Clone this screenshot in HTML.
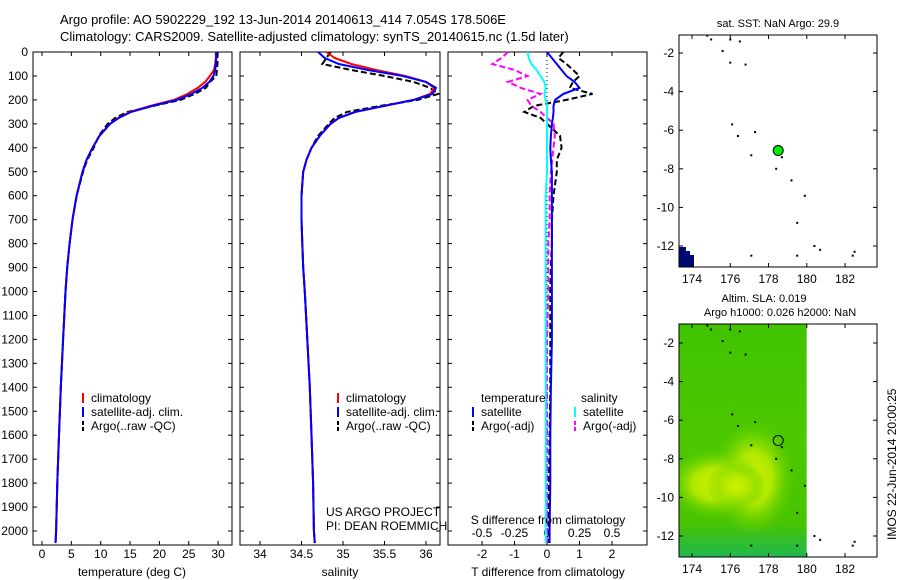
<!DOCTYPE html>
<html><head><meta charset="utf-8"><style>
body{margin:0;background:#fff;}
svg{display:block;font-family:"Liberation Sans",sans-serif;}
</style></head><body>
<svg id="fig" width="900" height="580" viewBox="0 0 900 580" xmlns="http://www.w3.org/2000/svg">
<text x="60" y="24" font-size="13">Argo profile: AO 5902229_192 13-Jun-2014 20140613_414 7.054S 178.506E</text>
<text x="60" y="41" font-size="13">Climatology: CARS2009. Satellite-adjusted climatology: synTS_20140615.nc (1.5d later)</text>
<g id="g"></g>
</svg>
<script>
// shared depth grid (m)
const depths = [0,25,50,75,100,125,150,175,200,225,250,275,300,350,400,450,500,600,700,800,900,1000,1200,1400,1600,1800,2000,2050];
const tempClim = [29.6,29.6,29.5,29.3,28.6,27.8,26.5,24.8,22.5,18.5,15.0,13.0,11.6,9.8,8.6,7.6,6.9,5.9,5.2,4.7,4.3,4.0,3.6,3.2,2.9,2.6,2.4,2.3];
const tempSat  = [29.7,29.7,29.6,29.5,29.2,28.5,27.3,25.5,23.0,18.8,15.2,13.1,11.6,9.8,8.6,7.6,6.9,5.9,5.2,4.7,4.3,4.0,3.6,3.2,2.9,2.6,2.4,2.3];
const tempArgo = [29.9,29.9,29.9,29.8,29.7,28.6,27.9,26.0,23.6,19.0,14.6,12.5,11.2,9.7,8.8,7.7,7.0,5.9,5.2,4.7,4.3,4.0,3.6,3.2,2.9,2.6,2.4,2.3];
const salClim  = [34.80,34.90,35.10,35.40,35.75,36.00,36.10,36.05,35.85,35.50,35.15,34.95,34.85,34.72,34.62,34.56,34.52,34.50,34.50,34.51,34.52,34.54,34.57,34.60,34.62,34.64,34.65,34.66];
const salSat   = [34.70,34.78,34.95,35.30,35.72,36.00,36.12,36.08,35.85,35.50,35.15,34.95,34.85,34.72,34.62,34.56,34.52,34.50,34.50,34.51,34.52,34.54,34.57,34.60,34.62,34.64,34.65,34.66];
const salArgo  = [34.85,34.80,34.75,35.10,35.50,35.85,36.05,36.15,35.90,35.45,35.05,34.90,34.83,34.70,34.62,34.56,34.52,34.50,34.50,34.51,34.52,34.54,34.57,34.60,34.62,34.64,34.65,34.66];
const dTsat  = [0.0,0.15,0.3,0.45,0.6,0.85,1.0,0.5,0.25,0.2,0.2,0.18,0.15,0.12,0.1,0.12,0.15,0.15,0.15,0.15,0.15,0.15,0.15,0.12,0.1,0.1,0.08,0.08];
const dTargo = [0.5,0.35,0.6,0.8,1.0,0.8,0.7,1.4,0.6,-0.4,-0.7,-0.2,0.0,0.4,0.45,0.3,0.3,0.2,0.15,0.15,0.12,0.1,0.1,0.1,0.08,0.06,0.05,0.05];
const dSsat  = [-0.15,-0.14,-0.12,-0.08,-0.05,-0.02,-0.01,-0.02,-0.01,0.0,0.0,0.0,0.0,0.0,0.0,0.0,0.0,-0.01,-0.01,-0.01,-0.01,-0.01,-0.01,-0.01,-0.01,-0.01,-0.01,-0.01];
const dSargo = [-0.3,-0.35,-0.42,-0.25,-0.15,-0.3,-0.2,-0.05,-0.15,-0.12,-0.05,0.0,0.05,0.06,0.05,0.04,0.03,0.02,0.02,0.01,0.01,0.01,0.0,0.0,0.0,0.0,0.0,0.0];
const depthTicks = [0,100,200,300,400,500,600,700,800,900,1000,1100,1200,1300,1400,1500,1600,1700,1800,1900,2000];
const tempTicks = [0,5,10,15,20,25,30];
const salTicks = [34,34.5,35,35.5,36];
const tdTicks = [-2,-1,0,1,2];
const sdTicks = [-0.5,-0.25,0,0.25,0.5];
const lonTicks = [174,176,178,180,182];
const latTicks = [-2,-4,-6,-8,-10,-12];
const coast = [[174.8,-1.1],[175.0,-1.3],[176.0,-1.3],[176.5,-1.4],[175.6,-1.9],[176.0,-2.5],[176.8,-2.6],[176.1,-5.7],[176.4,-6.3],[177.3,-6.1],[177.1,-7.3],[178.7,-7.4],[178.4,-8.0],[179.2,-8.6],[179.9,-9.4],[179.5,-10.8],[180.4,-12.0],[180.7,-12.2],[177.1,-12.5],[179.5,-12.5],[182.5,-12.3],[182.4,-12.5]];
const floatLon = 178.506, floatLat = -7.054;

const NS="http://www.w3.org/2000/svg";
const G=document.getElementById('g');
function el(t,a,p){const e=document.createElementNS(NS,t);for(const k in a)e.setAttribute(k,a[k]);(p||G).appendChild(e);return e;}
const yD=d=>52+d*0.2395;

function axesBox(x0,x1,name){
  const r=el('rect',{x:x0,y:52,width:x1-x0,height:493,fill:'none',stroke:'#000','stroke-width':1});
  
  
  depthTicks.forEach(d=>{el('line',{x1:x0,x2:x0+4,y1:yD(d),y2:yD(d),stroke:'#000'});el('line',{x1:x1,x2:x1-4,y1:yD(d),y2:yD(d),stroke:'#000'});});
}
function profile(xs,xf,col,dash,name){
  const pts=depths.map((d,i)=>xf(xs[i]).toFixed(1)+','+yD(d).toFixed(1)).join(' ');
  const p=el('polyline',{points:pts,fill:'none',stroke:col,'stroke-width':2});
  if(dash)p.setAttribute('stroke-dasharray',dash);
  
  
}
function xticks(x0,x1,ticks,xf,yy,lbls){
  ticks.forEach((t,i)=>{const x=xf(t);el('line',{x1:x,x2:x,y1:52,y2:56,stroke:'#000'});el('line',{x1:x,x2:x,y1:545,y2:541,stroke:'#000'});
    const tx=el('text',{x:x,y:yy,'font-size':12,'text-anchor':'middle'});tx.textContent=lbls?lbls[i]:t;});
}
depthTicks.forEach(d=>{const t=el('text',{x:28,y:yD(d)+4,'font-size':12,'text-anchor':'end'});t.textContent=d;});

// Panel 1
const xT=t=>42+t*5.87;
axesBox(33,232,'temperature-axes');
xticks(33,232,tempTicks,xT,558);
profile(tempArgo,xT,'#000','6,3','temp-argo');
profile(tempClim,xT,'#f00',null,'temp-climatology');
profile(tempSat,xT,'#00f',null,'temp-satellite');
el('text',{x:132,y:576,'font-size':12,'text-anchor':'middle'}).textContent='temperature (deg C)';

// Panel 2
const xS=s=>260+(s-34)*83;
axesBox(240,440,'salinity-axes');
xticks(240,440,salTicks,xS,558,['34','34.5','35','35.5','36']);
profile(salArgo,xS,'#000','6,3','sal-argo');
profile(salClim,xS,'#f00',null,'sal-climatology');
profile(salSat,xS,'#00f',null,'sal-satellite');
el('text',{x:340,y:576,'font-size':12,'text-anchor':'middle'}).textContent='salinity';

// Panel 3
const xTd=t=>547+t*32.5;
const xSd=s=>547+s*130;
axesBox(448,647,'difference-axes');
tdTicks.forEach(t=>{const x=xTd(t);el('line',{x1:x,x2:x,y1:52,y2:56,stroke:'#000'});el('line',{x1:x,x2:x,y1:545,y2:541,stroke:'#000'});el('text',{x:x,y:558,'font-size':12,'text-anchor':'middle'}).textContent=t;});
sdTicks.forEach(s=>{el('text',{x:xSd(s),y:537,'font-size':12,'text-anchor':'middle'}).textContent=s;});
el('line',{x1:547,x2:547,y1:52,y2:545,stroke:'#000','stroke-dasharray':'1,3'});
profile(dTargo,xTd,'#000','6,3','tdiff-argo');
profile(dSargo,xSd,'#f0f','6,3','sdiff-argo');
profile(dSsat,xSd,'#0ff',null,'sdiff-satellite');
profile(dTsat,xTd,'#00f',null,'tdiff-satellite');
el('text',{x:548,y:524,'font-size':12,'text-anchor':'middle'}).textContent='S difference from climatology';
el('text',{x:548,y:576,'font-size':12,'text-anchor':'middle'}).textContent='T difference from climatology';

function leg(x,y,col,dash,txt,name){
  const l=el('line',{x1:x,x2:x,y1:y-9,y2:y+1,stroke:col,'stroke-width':2});
  if(dash)l.setAttribute('stroke-dasharray',dash);
  const t=el('text',{x:x+8,y:y,'font-size':12});t.textContent=txt;
  
  
}
[[83,'temp'],[338,'sal']].forEach(([x,n])=>{
  leg(x,402,'#f00',null,'climatology',n+'-legend-climatology');
  leg(x,416,'#00f',null,'satellite-adj. clim.',n+'-legend-satellite');
  leg(x,430,'#000','4,2','Argo(..raw -QC)',n+'-legend-argo');
});
el('text',{x:481,y:402,'font-size':12}).textContent='temperature';
el('text',{x:581,y:402,'font-size':12}).textContent='salinity';
leg(473,416,'#00f',null,'satellite','tdiff-legend-satellite');
leg(473,430,'#000','4,2','Argo(-adj)','tdiff-legend-argo');
leg(575,416,'#0ff',null,'satellite','sdiff-legend-satellite');
leg(575,430,'#f0f','4,2','Argo(-adj)','sdiff-legend-argo');
el('text',{x:326,y:516,'font-size':12}).textContent='US ARGO PROJECT';
el('text',{x:326,y:530,'font-size':12}).textContent='PI: DEAN ROEMMICH';

// Maps
const xL=l=>692+(l-174)*19.13;
function mapAxes(top,bottom,y2,yf,name){
  const r=el('rect',{x:679,y:top,width:198,height:bottom-top,fill:'none',stroke:'#000'});
  
  
  lonTicks.forEach(l=>{const x=xL(l);el('line',{x1:x,x2:x,y1:top,y2:top+4,stroke:'#000'});el('line',{x1:x,x2:x,y1:bottom,y2:bottom-4,stroke:'#000'});el('text',{x:x,y:bottom+16,'font-size':12,'text-anchor':'middle'}).textContent=l;});
  latTicks.forEach(a=>{const y=yf(a);el('line',{x1:679,x2:683,y1:y,y2:y,stroke:'#000'});el('line',{x1:877,x2:873,y1:y,y2:y,stroke:'#000'});el('text',{x:674,y:y+4,'font-size':12,'text-anchor':'end'}).textContent=a;});
}
const yM1=a=>53+(-2-a)*19.3;
el('text',{x:778,y:27,'font-size':11,'text-anchor':'middle'}).textContent='sat. SST: NaN Argo: 29.9';
el('path',{d:'M679 247 H686 V251 H690 V255 H694 V267 H679 Z',fill:'#000a70'});
coast.forEach(c=>{el('rect',{x:xL(c[0])-1,y:yM1(c[1])-1,width:2,height:2,fill:'#000'});});
const fd=el('circle',{cx:xL(floatLon),cy:yM1(floatLat),r:5,fill:'#0e0',stroke:'#000'});


mapAxes(35,267,null,yM1,'sst-map-axes');

// Map 2 (SLA)
const yM2=a=>343+(-2-a)*19.3;
el('text',{x:764,y:302,'font-size':11,'text-anchor':'middle'}).textContent='Altim. SLA: 0.019';
el('text',{x:780,y:316,'font-size':11,'text-anchor':'middle'}).textContent='Argo h1000: 0.026 h2000: NaN';
const defs=el('defs',{});
const cp=el('clipPath',{id:'slaclip'},defs);
el('rect',{x:679,y:324,width:xL(180)-679,height:233},cp);
const rg=el('radialGradient',{id:'yb',cx:'50%',cy:'50%',r:'50%'},defs);
el('stop',{offset:'0%','stop-color':'#d0f000'},rg);
el('stop',{offset:'45%','stop-color':'#b0e800'},rg);
el('stop',{offset:'100%','stop-color':'#60d000','stop-opacity':0},rg);
const lg=el('linearGradient',{id:'bg',x1:0,y1:0,x2:0,y2:1},defs);
el('stop',{offset:'0%','stop-color':'#40c400'},lg);
el('stop',{offset:'50%','stop-color':'#4cc800'},lg);
el('stop',{offset:'85%','stop-color':'#48c400'},lg);
el('stop',{offset:'100%','stop-color':'#20b850'},lg);
const hg=el('g',{'clip-path':'url(#slaclip)'});
const hm=el('rect',{x:679,y:324,width:xL(180)-679,height:233,fill:'url(#bg)'},hg);


el('ellipse',{cx:xL(177.2),cy:yM2(-9),rx:42,ry:58,fill:'url(#yb)'},hg);
el('ellipse',{cx:xL(175.2),cy:yM2(-9.3),rx:50,ry:36,fill:'url(#yb)'},hg);
el('ellipse',{cx:xL(176.3),cy:yM2(-9.4),rx:30,ry:24,fill:'url(#yb)'},hg);
coast.forEach(c=>{el('rect',{x:xL(c[0])-1,y:yM2(c[1])-1,width:2,height:2,fill:'#000'});});
el('circle',{cx:xL(floatLon),cy:yM2(floatLat),r:5,fill:'none',stroke:'#000'});
mapAxes(324,557,null,yM2,'sla-map-axes');
const ts=el('text',{x:0,y:0,'font-size':12,transform:'translate(896,540) rotate(-90)'});ts.textContent='IMOS 22-Jun-2014 20:00:25';
</script>
</body></html>
